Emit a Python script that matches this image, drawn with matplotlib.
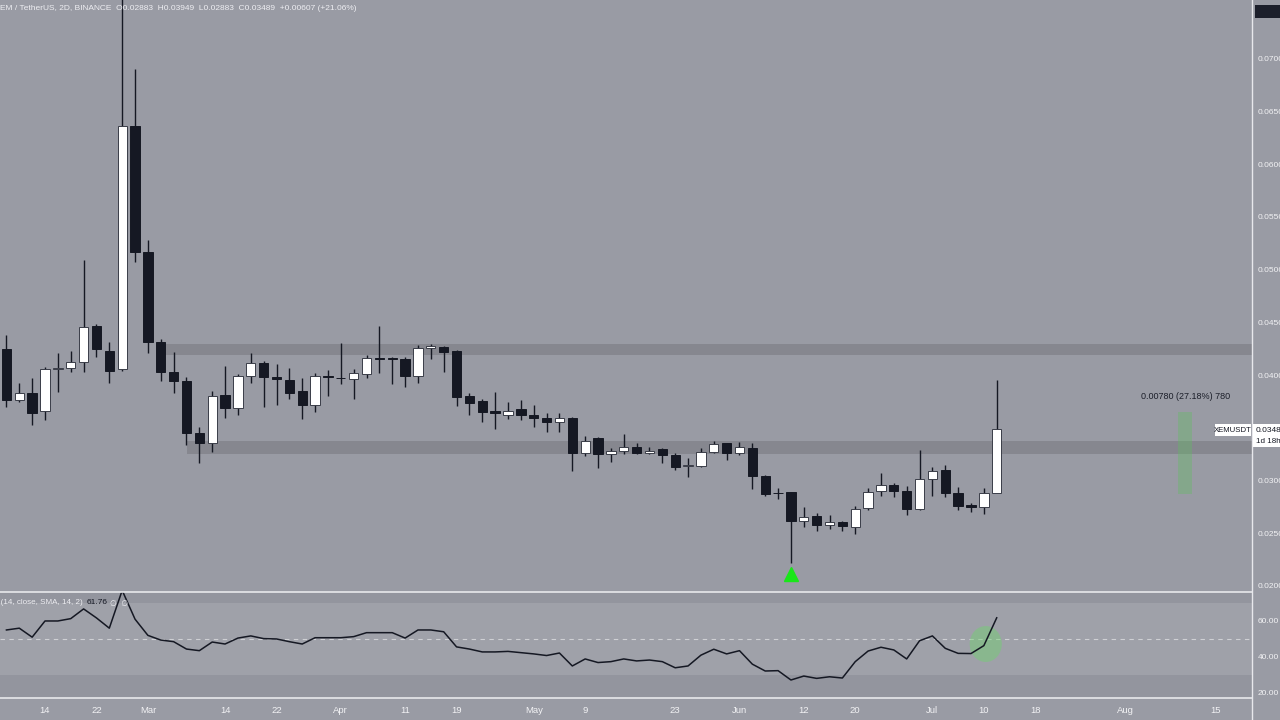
import matplotlib
matplotlib.use("Agg")
import matplotlib.pyplot as plt
import matplotlib.dates as mdates
from matplotlib.patches import Ellipse, Rectangle
from matplotlib.lines import Line2D
import pandas as pd
import numpy as np

plt.rcParams['font.family'] = ['Liberation Sans', 'DejaVu Sans']

# ---------------- data ----------------
dates = pd.date_range('2023-02-08', periods=78, freq='2D')

opens = [
    0.04247, 0.03763, 0.03830, 0.03659, 0.04057, 0.04067, 0.04124, 0.04465, 0.04228, 0.04057,
    0.06361, 0.05166, 0.04313, 0.04029, 0.03943, 0.03450, 0.03356, 0.03811, 0.03687, 0.03995,
    0.04114, 0.03981, 0.03953, 0.03849, 0.03716, 0.03991, 0.03972, 0.03962, 0.04010, 0.04161,
    0.04157, 0.04152, 0.03991, 0.04256, 0.04266, 0.04228, 0.03801, 0.03754, 0.03659, 0.03621,
    0.03678, 0.03621, 0.03593, 0.03555, 0.03593, 0.03261, 0.03403, 0.03251, 0.03280, 0.03318,
    0.03261, 0.03299, 0.03242, 0.03138, 0.03138, 0.03270, 0.03356, 0.03261, 0.03308, 0.03043,
    0.02882, 0.02891, 0.02616, 0.02664, 0.02578, 0.02607, 0.02559, 0.02739, 0.02901, 0.02957,
    0.02901, 0.02730, 0.03014, 0.03100, 0.02882, 0.02768, 0.02749, 0.02883]

highs = [
    0.04379, 0.03924, 0.03972, 0.04076, 0.04209, 0.04228, 0.05090, 0.04484, 0.04313, 0.07900,
    0.06901, 0.05280, 0.04342, 0.04218, 0.03981, 0.03507, 0.03849, 0.04086, 0.04010, 0.04209,
    0.04133, 0.04105, 0.04067, 0.03972, 0.04019, 0.04048, 0.04304, 0.04057, 0.04190, 0.04465,
    0.04171, 0.04171, 0.04285, 0.04294, 0.04275, 0.04237, 0.03830, 0.03773, 0.03839, 0.03744,
    0.03763, 0.03716, 0.03640, 0.03640, 0.03602, 0.03422, 0.03413, 0.03308, 0.03441, 0.03356,
    0.03318, 0.03308, 0.03261, 0.03213, 0.03308, 0.03375, 0.03360, 0.03365, 0.03356, 0.03052,
    0.02929, 0.02895, 0.02749, 0.02692, 0.02673, 0.02616, 0.02758, 0.02929, 0.03071, 0.02976,
    0.02948, 0.03289, 0.03128, 0.03147, 0.02939, 0.02787, 0.02929, 0.03949]

lows = [
    0.03697, 0.03744, 0.03526, 0.03574, 0.03839, 0.04029, 0.04029, 0.04171, 0.03924, 0.04038,
    0.05072, 0.04209, 0.03943, 0.03830, 0.03337, 0.03166, 0.03270, 0.03593, 0.03621, 0.03924,
    0.03697, 0.03716, 0.03773, 0.03583, 0.03650, 0.03801, 0.03915, 0.03773, 0.03972, 0.04019,
    0.03915, 0.03887, 0.03924, 0.04152, 0.04029, 0.03706, 0.03621, 0.03555, 0.03488, 0.03583,
    0.03574, 0.03507, 0.03460, 0.03460, 0.03090, 0.03232, 0.03119, 0.03176, 0.03251, 0.03251,
    0.03251, 0.03166, 0.03100, 0.03033, 0.03128, 0.03261, 0.03195, 0.03242, 0.02920, 0.02853,
    0.02825, 0.02218, 0.02559, 0.02521, 0.02540, 0.02521, 0.02493, 0.02720, 0.02853, 0.02844,
    0.02673, 0.02720, 0.02853, 0.02844, 0.02720, 0.02702, 0.02683, 0.02883]

closes = [
    0.03763, 0.03830, 0.03640, 0.04057, 0.04067, 0.04124, 0.04455, 0.04247, 0.04038, 0.06361,
    0.05166, 0.04313, 0.04029, 0.03943, 0.03450, 0.03356, 0.03801, 0.03687, 0.03991, 0.04114,
    0.03981, 0.03962, 0.03830, 0.03716, 0.03991, 0.03981, 0.03968, 0.04019, 0.04161, 0.04152,
    0.04152, 0.03991, 0.04256, 0.04275, 0.04218, 0.03792, 0.03735, 0.03650, 0.03640, 0.03659,
    0.03621, 0.03593, 0.03555, 0.03593, 0.03261, 0.03375, 0.03251, 0.03280, 0.03318, 0.03261,
    0.03280, 0.03242, 0.03128, 0.03143, 0.03270, 0.03346, 0.03261, 0.03318, 0.03043, 0.02872,
    0.02877, 0.02616, 0.02654, 0.02578, 0.02607, 0.02569, 0.02730, 0.02891, 0.02957, 0.02901,
    0.02730, 0.03014, 0.03090, 0.02882, 0.02758, 0.02749, 0.02883, 0.03489]

rsi = [
    55.0, 56.0, 51.0, 60.0, 60.0, 61.3, 66.7, 61.7, 56.0, 77.0,
    61.0, 52.0, 49.4, 48.5, 44.4, 43.5, 48.3, 47.2, 50.5, 51.7,
    50.2, 50.0, 48.5, 47.2, 50.7, 50.7, 50.7, 51.3, 53.5, 53.5,
    53.5, 50.5, 55.0, 55.0, 54.0, 45.6, 44.4, 42.8, 42.8, 43.1,
    42.4, 41.7, 40.8, 42.2, 35.0, 38.9, 36.9, 37.4, 38.9, 37.8,
    38.3, 37.4, 34.0, 35.0, 41.0, 44.3, 41.7, 43.5, 36.0, 32.2,
    32.4, 27.2, 29.4, 28.1, 29.0, 28.3, 37.4, 43.3, 45.4, 43.9,
    38.9, 49.0, 51.7, 44.8, 42.0, 41.9, 46.3, 61.76]

# horizontal zones (low, high) and their start dates
zone_levels = [(0.04190, 0.04294), (0.03251, 0.03375)]
zone_starts = ['2023-03-04 16:00', '2023-03-08 02:00']

price_ticks = [0.020, 0.025, 0.030, 0.035, 0.040, 0.045, 0.050, 0.055, 0.060, 0.065, 0.070]
rsi_ticks = [20, 40, 60]
xtick_dates = ['2023-02-14', '2023-02-22', '2023-03-02', '2023-03-14', '2023-03-22',
               '2023-04-01', '2023-04-11', '2023-04-19', '2023-05-01', '2023-05-09',
               '2023-05-23', '2023-06-02', '2023-06-12', '2023-06-20', '2023-07-02',
               '2023-07-10', '2023-07-18', '2023-08-01', '2023-08-15']
xtick_labels = ['14', '22', 'Mar', '14', '22', 'Apr', '11', '19', 'May', '9',
                '23', 'Jun', '12', '20', 'Jul', '10', '18', 'Aug', '15']

signal_date = '2023-06-10'
signal_price = 0.02114
measure_range = (0.02870, 0.03650)
measure_dates = ('2023-08-09 05:00', '2023-08-11 10:00')
last_price = 0.03489

# ---------------- styling ----------------
BG = '#999ba4'
ZONE = '#86878f'
DARK = '#151823'
LIGHT = '#f2f2f4'

fig = plt.figure(figsize=(12.8, 7.2), dpi=100)
fig.patch.set_facecolor(BG)

W = 1252 / 1280
ax = fig.add_axes([0, 1 - 592 / 720, W, 592 / 720])
rx = fig.add_axes([0, 1 - 698 / 720, W, 106 / 720], sharex=ax)
for a in (ax, rx):
    a.set_facecolor(BG)
    for s in a.spines.values():
        s.set_visible(False)

x = mdates.date2num(dates)
feb14 = mdates.date2num(pd.Timestamp('2023-02-14'))
ax.set_xlim(feb14 - 7.0, feb14 + 187.7)
ax.set_ylim(0.01943, 0.07556)

# zones
xr = ax.get_xlim()[1]
for (lo, hi), st in zip(zone_levels, zone_starts):
    s = mdates.date2num(pd.Timestamp(st))
    ax.fill_between([s, xr], lo, hi, color=ZONE, lw=0, zorder=1)

# candles
o = np.array(opens); h = np.array(highs); l = np.array(lows); c = np.array(closes)
up = c >= o
ax.vlines(x, l, h, color=DARK, lw=1.0, zorder=2)
body_lo = np.minimum(o, c)
body_h = np.maximum(np.abs(c - o), 0.00004)
ax.bar(x[up], body_h[up], bottom=body_lo[up], width=1.45, color='white',
       edgecolor='#3a3d48', linewidth=0.7, zorder=3)
ax.bar(x[~up], body_h[~up], bottom=body_lo[~up], width=1.45, color=DARK,
       edgecolor=DARK, linewidth=0.7, zorder=3)

# signal triangle
ax.plot([mdates.date2num(pd.Timestamp(signal_date))], [signal_price], marker='^',
        color='#19e619', markersize=10, zorder=4, lw=0)

# measure tool
m0 = mdates.date2num(pd.Timestamp(measure_dates[0]))
m1 = mdates.date2num(pd.Timestamp(measure_dates[1]))
ax.add_patch(Rectangle((m0, measure_range[0]), m1 - m0, measure_range[1] - measure_range[0],
                       facecolor='#5fbf5f', alpha=0.35, lw=0, zorder=2))
ax.text((m0 + m1) / 2, 0.03800, '0.00780 (27.18%) 780', ha='center', va='center',
        fontsize=6.5, color='#1c1f2a')

# price axis (the 0.0350 label sits under the last-price tag)
ax.yaxis.tick_right()
ax.set_yticks(price_ticks)
ax.set_yticklabels(['' if abs(v - last_price) < 0.001 else '%.4f' % v for v in price_ticks])
ax.tick_params(axis='y', length=0, pad=4, labelsize=6.0, labelcolor=LIGHT)
ax.tick_params(axis='x', length=0, labelbottom=False)

# RSI pane
rx.set_ylim(17.2, 76.1)
rx.set_facecolor('#93959e')
rx.axhspan(30, 70, color='#9fa1a9', lw=0, zorder=0)
rx.axhline(50, color='#cfd0d4', lw=0.8, ls=(0, (4, 4)), zorder=1)
rx.plot(x, rsi, color=DARK, lw=1.1, zorder=3)
jul10 = mdates.date2num(pd.Timestamp('2023-07-10 07:00'))
rx.add_patch(Ellipse((jul10, 47.2), 5.0, 20.0, facecolor='#6fd36f', alpha=0.45, lw=0, zorder=2))
rx.yaxis.tick_right()
rx.set_yticks(rsi_ticks)
rx.set_yticklabels(['%.2f' % v for v in rsi_ticks])
rx.tick_params(axis='y', length=0, pad=4, labelsize=6.0, labelcolor=LIGHT)
rx.set_xticks(mdates.date2num(pd.to_datetime(xtick_dates)))
rx.set_xticklabels(xtick_labels)
rx.tick_params(axis='x', length=0, pad=6, labelsize=6.8, labelcolor=LIGHT)

# separators
fig.add_artist(Line2D([0, W], [1 - 592 / 720] * 2, color='#e8e8ec', lw=1.2))
fig.add_artist(Line2D([0, W], [1 - 698 / 720] * 2, color='#e8e8ec', lw=1.2))
fig.add_artist(Line2D([W, W], [0, 1], color='#e8e8ec', lw=1.0))

# header texts
fig.text(0.0, 1 - 9 / 720, 'EM / TetherUS, 2D, BINANCE  O0.02883  H0.03949  L0.02883  C0.03489  +0.00607 (+21.06%)',
         fontsize=6.0, color='#eeeef2', va='center', ha='left')
fig.text(83 / 1280, 1 - 603 / 720, 'RSI (14, close, SMA, 14, 2)', fontsize=5.8,
         color='#eeeef2', va='center', ha='right')
fig.text(87 / 1280, 1 - 603 / 720, '61.76', fontsize=6.0, color=DARK, va='center', ha='left')
fig.text(110 / 1280, 1 - 603 / 720, '\u2205  \u2205', fontsize=5.5, color='#eeeef2',
         va='center', ha='left', family=['DejaVu Sans'])

# top-right dark box
fig.add_artist(Rectangle((1255 / 1280, 1 - 18 / 720), 25 / 1280, 13 / 720,
                         facecolor='#1c1f2b', lw=0, transform=fig.transFigure))

# last price labels
fig.add_artist(Rectangle((1215 / 1280, 1 - 436 / 720), 36 / 1280, 12 / 720,
                         facecolor='white', lw=0, transform=fig.transFigure, zorder=5))
fig.text(1233 / 1280, 1 - 430 / 720, 'XEMUSDT', fontsize=5.6, color=DARK, ha='center',
         va='center', zorder=6)
fig.add_artist(Rectangle((1253 / 1280, 1 - 447 / 720), 27 / 1280, 23 / 720,
                         facecolor='white', lw=0, transform=fig.transFigure, zorder=5))
fig.text(1256 / 1280, 1 - 430 / 720, '0.03489', fontsize=6.0, color=DARK, ha='left',
         va='center', zorder=6)
fig.text(1256 / 1280, 1 - 441 / 720, '1d 18h', fontsize=5.8, color=DARK, ha='left',
         va='center', zorder=6)

fig.savefig('out.png', dpi=100, facecolor=BG)
